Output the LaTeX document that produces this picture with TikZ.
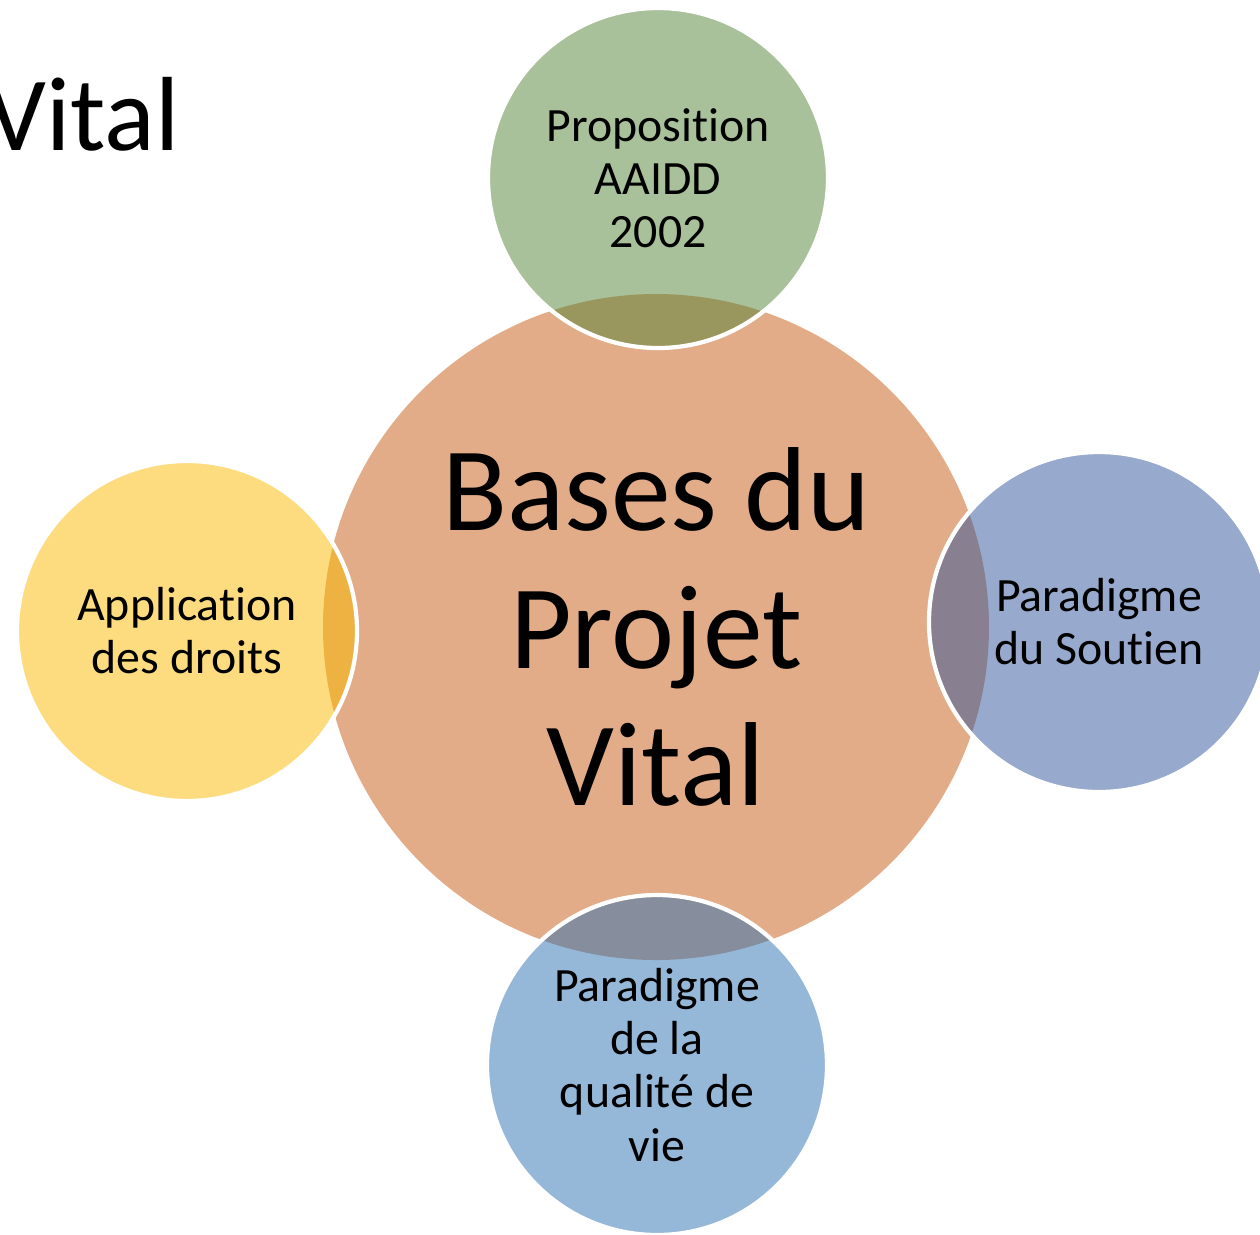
\documentclass[tikz,border=0pt]{standalone}
\usepackage{fontspec}
\setmainfont{Carlito}[Ligatures={NoCommon}]
\usepackage{tikz}
\usetikzlibrary{calc}
\definecolor{centreorange}{RGB}{226,172,136}
\definecolor{propgreen}{RGB}{83,131,53}
\definecolor{droitsyellow}{RGB}{251,185,0}
\definecolor{soutienblue}{RGB}{47,83,153}
\definecolor{qualiteblue}{RGB}{43,113,179}

\begin{document}
\begin{tikzpicture}[
    satellite/.style={circle,draw=white,line width=1.2pt,fill opacity=0.5,text opacity=1,
      minimum size=3.4cm,inner sep=0pt,align=center,font=\fontsize{13.6}{15.1}\selectfont}]

    \useasboundingbox (0,0) rectangle (12.6,-12.34);

    % slide title, cut at the left edge
    \node[anchor=base east,inner sep=0pt,font=\fontsize{30}{36}\selectfont] (titre) at (1.80,-1.50) {Vital};

    % centre
    \node[circle,fill=centreorange,minimum size=6.66cm,inner sep=0pt,align=center,
      font=\fontsize{34}{39}\selectfont] (bases) at (6.56,-6.27) {Bases du\\Projet\\Vital};

    % the four around it
    \node[satellite,fill=propgreen] (aaidd) at (6.58,-1.78) {Proposition\\AAIDD\\2002};
    \node[satellite,fill=droitsyellow] (droits) at (1.87,-6.31) {Application\\des droits};
    \node[satellite,fill=soutienblue] (soutien) at (10.99,-6.22) {Paradigme\\du Soutien};
    \node[satellite,fill=qualiteblue] (qualite) at (6.57,-10.65) {Paradigme\\de la\\qualité de\\vie};

  \end{tikzpicture}
\end{document}
